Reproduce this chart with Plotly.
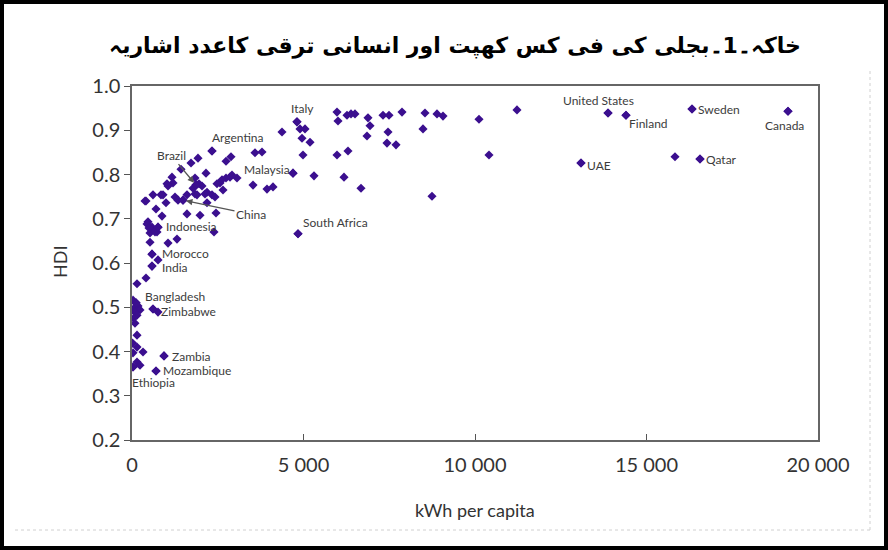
import plotly.graph_objects as go

# Electricity consumption (kWh per capita) vs Human Development Index
kwh_per_capita = [
    19125, 16327, 16560, 15831, 14402, 13878, 13090, 11224, 10117, 10408,
    8746, 7872, 8542, 8892, 9067, 8484, 7318, 7493, 7464, 7434, 7697,
    6880, 6939, 6851, 6676, 6181, 6297, 5977, 5977, 6006, 6268, 6385, 6501,
    5306, 4810, 4373, 4898, 5044, 4956, 5190, 4985, 4840, 4694,
    3528, 3936, 4111, 3586, 3790,
    2332, 1924, 1720, 2741, 2886, 1429, 2157, 1837, 2041, 2566, 2741, 2857,
    3061, 2478, 2653, 1195, 1050, 1953, 1778, 1837, 2187, 2332, 2420, 2187,
    2624, 2915, 612, 845, 408, 991, 1254, 1341, 1487, 700, 875, 1603, 1983,
    2449, 466, 583, 758, 729, 2391, 1312, 525, 671, 525, 1050, 1866, 1166,
    1020, 1603, 1895, 2128, 904, 379, 437, 496,
    583, 758, 583, 408, 146, 117,
    29, 175, 58, 233, 87, 146, 58,
    612, 758, 87, 146, 15, 146, 321, 29, 146, 29, 233, 933, 700,
]
hdi = [
    0.943, 0.948, 0.835, 0.840, 0.934, 0.939, 0.826, 0.946, 0.925, 0.844,
    0.751, 0.941, 0.939, 0.937, 0.932, 0.903, 0.934, 0.934, 0.896, 0.871, 0.867,
    0.928, 0.910, 0.887, 0.769, 0.794, 0.853, 0.844, 0.941, 0.921, 0.934, 0.937, 0.937,
    0.797, 0.919, 0.896, 0.903, 0.903, 0.882, 0.873, 0.844, 0.666, 0.803,
    0.776, 0.767, 0.772, 0.849, 0.851,
    0.853, 0.837, 0.826, 0.830, 0.840, 0.812, 0.803, 0.792, 0.774, 0.781, 0.792, 0.794,
    0.792, 0.779, 0.765, 0.781, 0.774, 0.779, 0.769, 0.756, 0.760, 0.754, 0.749, 0.736,
    0.788, 0.799, 0.754, 0.754, 0.740, 0.736, 0.749, 0.742, 0.742, 0.722, 0.706, 0.711, 0.708,
    0.713, 0.693, 0.681, 0.681, 0.670, 0.670, 0.654, 0.668, 0.670, 0.647, 0.645, 0.776, 0.794,
    0.779, 0.754, 0.754, 0.756, 0.754, 0.740, 0.688, 0.679,
    0.620, 0.607, 0.593, 0.566, 0.553, 0.510,
    0.516, 0.503, 0.498, 0.494, 0.489, 0.482, 0.476,
    0.496, 0.489, 0.464, 0.437, 0.419, 0.410, 0.399, 0.397, 0.376, 0.365, 0.369, 0.390, 0.356,
]

# Named countries: (kWh, HDI) of the labelled point
label_names = ["Canada", "Sweden", "Qatar", "Finland", "United States", "UAE",
               "Italy", "Argentina", "Malaysia", "South Africa", "Indonesia",
               "Morocco", "India", "Bangladesh", "Zimbabwe", "Zambia",
               "Mozambique", "Ethiopia"]
label_kwh = [19125, 16327, 16560, 14402, 13878, 13090, 4810, 2332, 4694, 4840,
             758, 583, 583, 117, 612, 933, 700, 29]
label_hdi = [0.943, 0.948, 0.835, 0.934, 0.939, 0.826, 0.919, 0.853, 0.803, 0.666,
             0.681, 0.620, 0.593, 0.510, 0.496, 0.390, 0.356, 0.365]

# Countries pointed to with an arrow
arrow_names = ["Brazil", "China"]
arrow_kwh = [1866, 1487]
arrow_hdi = [0.776, 0.742]

x_ticks = [0, 5000, 10000, 15000, 20000]
y_ticks = [0.2, 0.3, 0.4, 0.5, 0.6, 0.7, 0.8, 0.9, 1.0]

TITLE = "خاکہ۔1۔بجلی کی فی کس کھپت اور انسانی ترقی کاعدد اشاریہ"

# label placement: xanchor, yanchor, xshift, yshift
label_pos = {
    "Canada": ("center", "top", -3, -5),
    "Sweden": ("left", "middle", 4, 0),
    "Qatar": ("left", "middle", 4, 0),
    "Finland": ("left", "middle", 1, -8),
    "United States": ("center", "middle", -10, 12),
    "UAE": ("left", "middle", 4, -2),
    "Italy": ("center", "middle", 6, 13),
    "Argentina": ("left", "middle", -2, 14),
    "Malaysia": ("right", "middle", -1, 4),
    "South Africa": ("left", "middle", 3, 11),
    "Indonesia": ("left", "middle", 6, 1),
    "Morocco": ("left", "middle", 8, 1),
    "India": ("left", "middle", 8, -1),
    "Bangladesh": ("left", "middle", 7, 6),
    "Zimbabwe": ("left", "middle", 6, -2),
    "Zambia": ("left", "middle", 6, -1),
    "Mozambique": ("left", "middle", 5, 0),
    "Ethiopia": ("left", "middle", -3, -16),
}
arrow_offsets = {"Brazil": (-25, -30), "China": (68, 14)}

MARKER = "#3b0f8f"
TEXT = "#3c3c3c"

fig = go.Figure()
fig.add_trace(go.Scatter(
    x=kwh_per_capita + label_kwh + arrow_kwh,
    y=hdi + label_hdi + arrow_hdi,
    mode="markers",
    marker=dict(symbol="diamond", size=7, color=MARKER, line=dict(width=0)),
    hoverinfo="x+y",
    showlegend=False,
))

annotations = []
for name, xv, yv in zip(label_names, label_kwh, label_hdi):
    xa, ya, xs, ys = label_pos[name]
    annotations.append(dict(
        x=xv, y=yv, xref="x", yref="y", text=name, showarrow=False,
        xanchor=xa, yanchor=ya, xshift=xs, yshift=ys,
        font=dict(family="Lato", size=12, color=TEXT),
    ))
for name, xv, yv in zip(arrow_names, arrow_kwh, arrow_hdi):
    ax, ay = arrow_offsets[name]
    annotations.append(dict(
        x=xv, y=yv, xref="x", yref="y", text=name, showarrow=True,
        ax=ax, ay=ay, arrowhead=2, arrowsize=1, arrowwidth=1.3,
        arrowcolor="#555555", standoff=3,
        font=dict(family="Lato", size=12, color=TEXT),
    ))

# plot area in pixels: x 132..818, y 86..440
W, H = 888, 550
L, R, T, B = 132, 818, 86, 440
PW, PH = R - L, B - T


def px(xp):
    return (xp - L) / PW


def py(yp):
    return (B - yp) / PH


annotations.append(dict(
    x=px(60), y=py(262), xref="paper", yref="paper", text="HDI",
    showarrow=False, textangle=-90, xanchor="center", yanchor="middle",
    font=dict(family="Lato", size=18, color="#333333"),
))
annotations.append(dict(
    x=px(475), y=py(510), xref="paper", yref="paper", text="kWh per capita",
    showarrow=False, xanchor="center", yanchor="middle",
    font=dict(family="Lato", size=18, color="#333333"),
))

shapes = [
    # outer black frame
    dict(type="rect", xref="paper", yref="paper",
         x0=px(2), x1=px(886), y0=py(548), y1=py(2),
         line=dict(color="black", width=4), fillcolor="rgba(0,0,0,0)"),
    # faint dotted edge of the chart panel
    dict(type="line", xref="paper", yref="paper",
         x0=px(15), x1=px(870), y0=py(530), y1=py(530),
         line=dict(color="#d0d0d0", width=1, dash="dot")),
    dict(type="line", xref="paper", yref="paper",
         x0=px(870), x1=px(870), y0=py(530), y1=py(70),
         line=dict(color="#d0d0d0", width=1, dash="dot")),
]

fig.update_layout(
    width=W, height=H,
    margin=dict(l=L, r=W - R, t=T, b=H - B),
    paper_bgcolor="white", plot_bgcolor="white",
    separators=". ",
    title=dict(text="<b>" + TITLE + "</b>", x=455 / W, xref="container",
               xanchor="center", y=1 - 45 / H, yref="container", yanchor="middle",
               font=dict(family="DejaVu Sans", size=22, color="black")),
    annotations=annotations,
    shapes=shapes,
    xaxis=dict(range=[0, 20000], tickvals=x_ticks, tickformat=",d",
               showgrid=False, zeroline=False,
               showline=True, mirror=True, linecolor="#666666", linewidth=1.5,
               ticks="inside", ticklen=6, tickcolor="#555555",
               ticklabelstandoff=6,
               tickfont=dict(family="Lato", size=20, color="#333333")),
    yaxis=dict(range=[0.2, 1.0], tickvals=y_ticks, tickformat=".1f",
               showgrid=False, zeroline=False,
               showline=True, mirror=True, linecolor="#666666", linewidth=1.5,
               ticks="outside", ticklen=6, tickcolor="#555555",
               tickfont=dict(family="Lato", size=20, color="#333333")),
)

fig.write_html("out.html")
